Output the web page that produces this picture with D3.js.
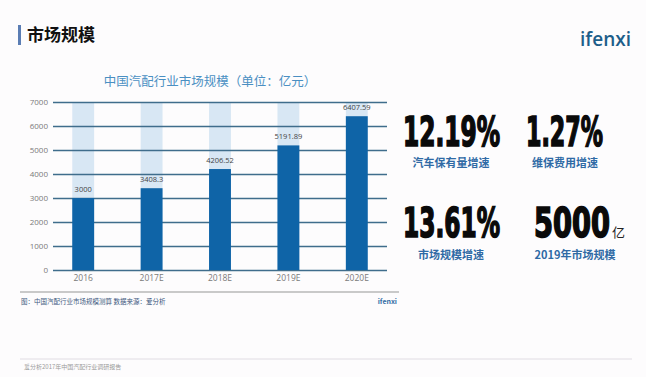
<!DOCTYPE html>
<html>
<head>
<meta charset="utf-8">
<title>市场规模</title>
<script src="https://cdn.jsdelivr.net/npm/d3@7/dist/d3.min.js"></script>
<style>
  body { margin: 0; background: #fdfcfd; }
  svg { display: block; font-family: "Noto Sans CJK SC", "Noto Sans", sans-serif; }
</style>
</head>
<body>
<div id="chart"></div>
<script>
// data
var years = ["2016", "2017E", "2018E", "2019E", "2020E"];
var values = [3000, 3408.3, 4206.52, 5191.89, 6407.59];
var valueLabels = ["3000", "3408.3", "4206.52", "5191.89", "6407.59"];
var yTicks = [0, 1000, 2000, 3000, 4000, 5000, 6000, 7000];
var statNumbers = ["12.19%", "1.27%", "13.61%", "5000"];
var statNames = ["汽车保有量增速", "维保费用增速", "市场规模增速", "2019年市场规模"];

var W = 646, H = 377;
var svg = d3.select("#chart").append("svg")
    .attr("width", W)
    .attr("height", H);

svg.append("rect").attr("width", W).attr("height", H).attr("fill", "#fdfcfd");

// header
svg.append("rect").attr("x", 18).attr("y", 25).attr("width", 3).attr("height", 20).attr("fill", "#5b7db4");
svg.append("text").attr("x", 27).attr("y", 41)
    .text("市场规模")
    .style("font-size", "17px").style("font-weight", "bold").attr("fill", "#111");
svg.append("text").attr("x", 631).attr("y", 46).attr("text-anchor", "end")
    .text("ifenxi")
    .style("font-family", "'Open Sans', sans-serif")
    .style("font-size", "19px").style("font-weight", "600").attr("fill", "#1d5e8a");

// chart
var x = d3.scaleBand().domain(years).range([49, 391]).paddingInner(0.68).paddingOuter(0.34);
var y = d3.scaleLinear().domain([0, 7000]).range([270, 102]);

svg.append("text").attr("x", 210).attr("y", 86).attr("text-anchor", "middle")
    .text("中国汽配行业市场规模（单位：亿元）")
    .style("font-size", "12.5px").attr("fill", "#4a8fc2");

svg.selectAll(".bg-bar")
    .data(years)
    .enter().append("rect")
        .attr("class", "bg-bar")
        .attr("x", function(d) { return x(d); })
        .attr("y", y(7000))
        .attr("width", x.bandwidth())
        .attr("height", y(0) - y(7000))
        .attr("fill", "#d8e7f4");

var yAxis = svg.append("g")
    .attr("transform", "translate(53,0)")
    .call(d3.axisLeft(y).tickValues(yTicks).tickSize(-334).tickFormat(d3.format("d")));
yAxis.select(".domain").remove();
yAxis.selectAll(".tick line").attr("stroke", "#3f6d8c").attr("stroke-width", 1.3);
yAxis.selectAll(".tick text").attr("x", -5).attr("fill", "#7a7a7a")
    .style("font-size", "8px").style("font-family", "'Open Sans', sans-serif");

svg.selectAll(".bar")
    .data(values)
    .enter().append("rect")
        .attr("class", "bar")
        .attr("x", function(d, i) { return x(years[i]); })
        .attr("y", function(d) { return y(d); })
        .attr("width", x.bandwidth())
        .attr("height", function(d) { return y(0) - y(d); })
        .attr("fill", "#0f64a7");

svg.selectAll(".val-label")
    .data(values)
    .enter().append("text")
        .attr("class", "val-label")
        .attr("x", function(d, i) { return x(years[i]) + x.bandwidth() / 2; })
        .attr("y", function(d) { return y(d) - 6; })
        .attr("text-anchor", "middle")
        .text(function(d, i) { return valueLabels[i]; })
        .style("font-size", "7.5px").style("font-family", "'Open Sans', sans-serif")
        .attr("fill", "#444");

var xAxis = svg.append("g")
    .attr("transform", "translate(0,270)")
    .call(d3.axisBottom(x).tickSize(0).tickPadding(5));
xAxis.select(".domain").remove();
xAxis.selectAll(".tick text").attr("fill", "#7a7a7a")
    .style("font-size", "8.5px").style("font-family", "'Open Sans', sans-serif");

// source line
svg.append("line").attr("x1", 20).attr("x2", 399).attr("y1", 292).attr("y2", 292)
    .attr("stroke", "#c9c9c9").attr("stroke-width", 2);
svg.append("text").attr("x", 21).attr("y", 304)
    .text("图：中国汽配行业市场规模测算  数据来源：爱分析")
    .style("font-size", "6.5px").attr("fill", "#3d5a80");
svg.append("text").attr("x", 397).attr("y", 304).attr("text-anchor", "end")
    .text("ifenxi")
    .style("font-size", "7px").style("font-weight", "bold").attr("fill", "#3670a6");

// stats on the right
var statPos = [
    { x: 403, y: 146, w: 97, nx: 451, ny: 167 },
    { x: 526, y: 146, w: 77, nx: 565, ny: 167 },
    { x: 403, y: 237, w: 97, nx: 451, ny: 259 },
    { x: 534, y: 237, w: 76, nx: 575, ny: 259 }
];
var nums = svg.selectAll(".stat-num")
    .data(statNumbers)
    .enter().append("text")
        .attr("class", "stat-num")
        .attr("x", 0)
        .attr("y", 0)
        .text(function(d) { return d; })
        .style("font-family", "'DejaVu Sans Condensed', 'DejaVu Sans', sans-serif")
        .style("font-size", "40px").style("font-weight", "bold")
        .attr("fill", "#0a0a0a")
        .attr("stroke", "#0a0a0a").attr("stroke-width", 1.6);
// squeeze each number horizontally to the width seen in the picture
nums.attr("transform", function(d, i) {
    var natural = this.getComputedTextLength();
    var p = statPos[i];
    return "translate(" + p.x + "," + p.y + ") scale(" + (p.w / natural) + ",1)";
});
svg.append("text").attr("x", 612).attr("y", 237).text("亿")
    .style("font-size", "13px").attr("fill", "#222");

svg.selectAll(".stat-name")
    .data(statNames)
    .enter().append("text")
        .attr("class", "stat-name")
        .attr("x", function(d, i) { return statPos[i].nx; })
        .attr("y", function(d, i) { return statPos[i].ny; })
        .attr("text-anchor", "middle")
        .text(function(d) { return d; })
        .style("font-size", "11px").style("font-weight", "bold")
        .attr("fill", "#2f6aa5");

// footer
svg.append("line").attr("x1", 20).attr("x2", 632).attr("y1", 359).attr("y2", 359)
    .attr("stroke", "#e0dce3").attr("stroke-width", 1);
svg.append("text").attr("x", 24).attr("y", 369)
    .text("爱分析2017年中国汽配行业调研报告")
    .style("font-size", "6px").attr("fill", "#9a9a9a");
</script>
</body>
</html>
